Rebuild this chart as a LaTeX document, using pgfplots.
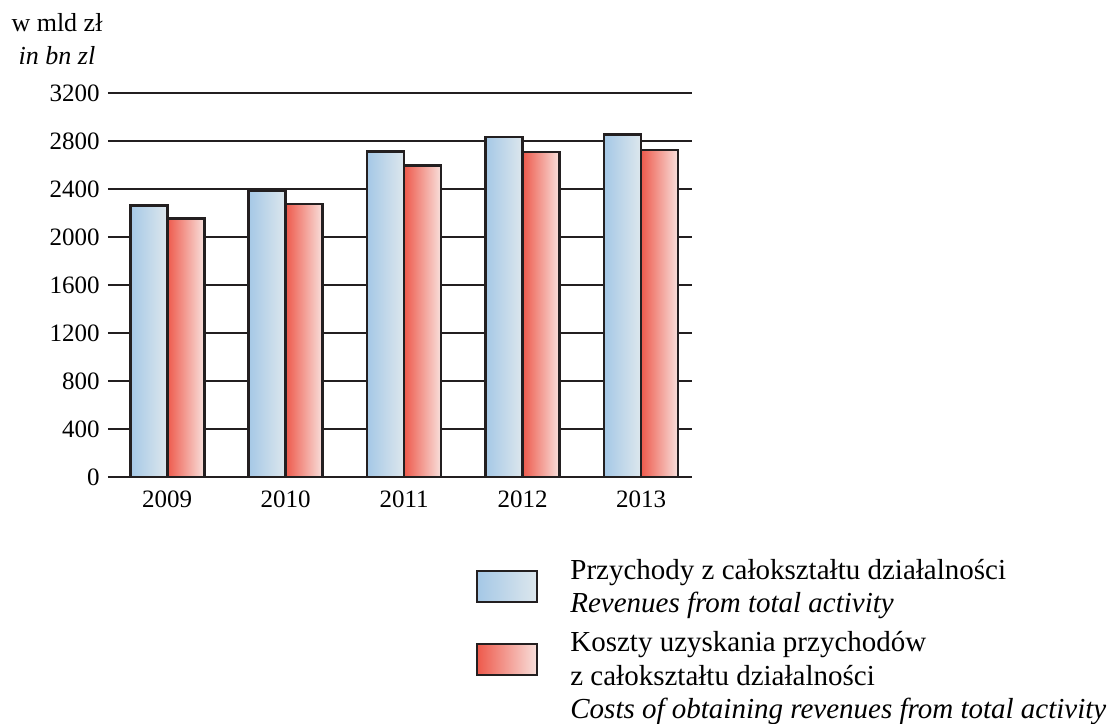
\documentclass[border=0pt]{standalone}
\usepackage{fontspec}
\setmainfont{Liberation Serif}
\usepackage{pgfplots}
\pgfplotsset{compat=1.18}
\definecolor{bL}{RGB}{165,200,230}
\definecolor{bR}{RGB}{221,231,237}
\definecolor{rL}{RGB}{238,90,76}
\definecolor{rR}{RGB}{248,224,220}
\definecolor{edge}{RGB}{35,31,32}
\pgfplotsset{
  bluebar/.style={ybar, bar shift=-9.25bp, bar width=18.5bp, draw=edge, line width=1.3bp, left color=bL, right color=bR},
  redbar/.style={ybar, bar shift=9.25bp, bar width=18.5bp, draw=edge, line width=1.3bp, left color=rL, right color=rR},
}
\begin{document}
\begin{tikzpicture}
\useasboundingbox (-54bp,-123.5bp) rectangle (503.5bp,238.5bp);
\begin{axis}[
  at={(0,0)}, anchor=south west,
  scale only axis, width=292bp, height=192bp,
  xmin=-0.5, xmax=4.43, ymin=0, ymax=3200,
  ytick={0,400,...,3200},
  xtick={0,1,2,3,4}, xticklabels={2009,2010,2011,2012,2013},
  major tick length=0pt,
  axis line style={draw=none},
  ymajorgrids, grid style={line width=0.8bp, color=edge},
  scaled y ticks=false,
  /pgf/number format/1000 sep={},
  /pgf/number format/assume math mode=true,
  yticklabel style={anchor=east, inner sep=0pt, xshift=-4bp, font=\fontsize{12.5bp}{15bp}\selectfont},
  xticklabel style={anchor=north, inner sep=0pt, yshift=-6.5bp, font=\fontsize{12.5bp}{15bp}\selectfont},
  ylabel={w mld zł\\\textit{in bn zl}},
  every axis y label/.style={at={(axis description cs:-0.0873,1.1400)}, anchor=center, align=center, inner sep=0pt, font=\fontsize{13bp}{16.5bp}\selectfont},
  legend style={at={(axis description cs:0.6318,-0.2050)}, anchor=north west, draw=none, fill=none, inner sep=0pt, row sep=0pt, column sep=46.5bp,
    cells={anchor=base west},
    nodes={inner sep=0pt, font=\fontsize{14.5bp}{16.65bp}\selectfont, text depth=5.15bp}},
  ybar=0pt, bar width=18.5bp,
]
\addplot[bluebar,
  legend image code/.code={\draw[overlay, draw=edge, line width=1bp, left color=bL, right color=bR] (0bp,-11.3bp) rectangle (30bp,4bp);}]
  coordinates {(0,2262)};
\addlegendentry{\rule{0pt}{11.5bp}Przychody z całokształtu działalności}
\addlegendimage{empty legend}
\addlegendentry{\rule{0pt}{11.5bp}\textit{Revenues from total activity}}
\addplot[redbar,
  legend image code/.code={\draw[overlay, draw=edge, line width=1bp, left color=rL, right color=rR] (0bp,-11.5bp) rectangle (30bp,4bp);}]
  coordinates {(0,2156)};
\addlegendentry{\rule{0pt}{14.5bp}Koszty uzyskania przychodów}
\addlegendimage{empty legend}
\addlegendentry{\rule{0pt}{11.5bp}z całokształtu działalności}
\addlegendimage{empty legend}
\addlegendentry{\rule{0pt}{11.5bp}\textit{Costs of obtaining revenues from total activity}}
\addplot[bluebar, forget plot] coordinates {(1,2390)};
\addplot[bluebar, forget plot] coordinates {(2,2712)};
\addplot[bluebar, forget plot] coordinates {(3,2834)};
\addplot[bluebar, forget plot] coordinates {(4,2855)};
\addplot[redbar, forget plot] coordinates {(1,2274)};
\addplot[redbar, forget plot] coordinates {(2,2594)};
\addplot[redbar, forget plot] coordinates {(3,2709)};
\addplot[redbar, forget plot] coordinates {(4,2725)};
\end{axis}
\end{tikzpicture}
\end{document}
